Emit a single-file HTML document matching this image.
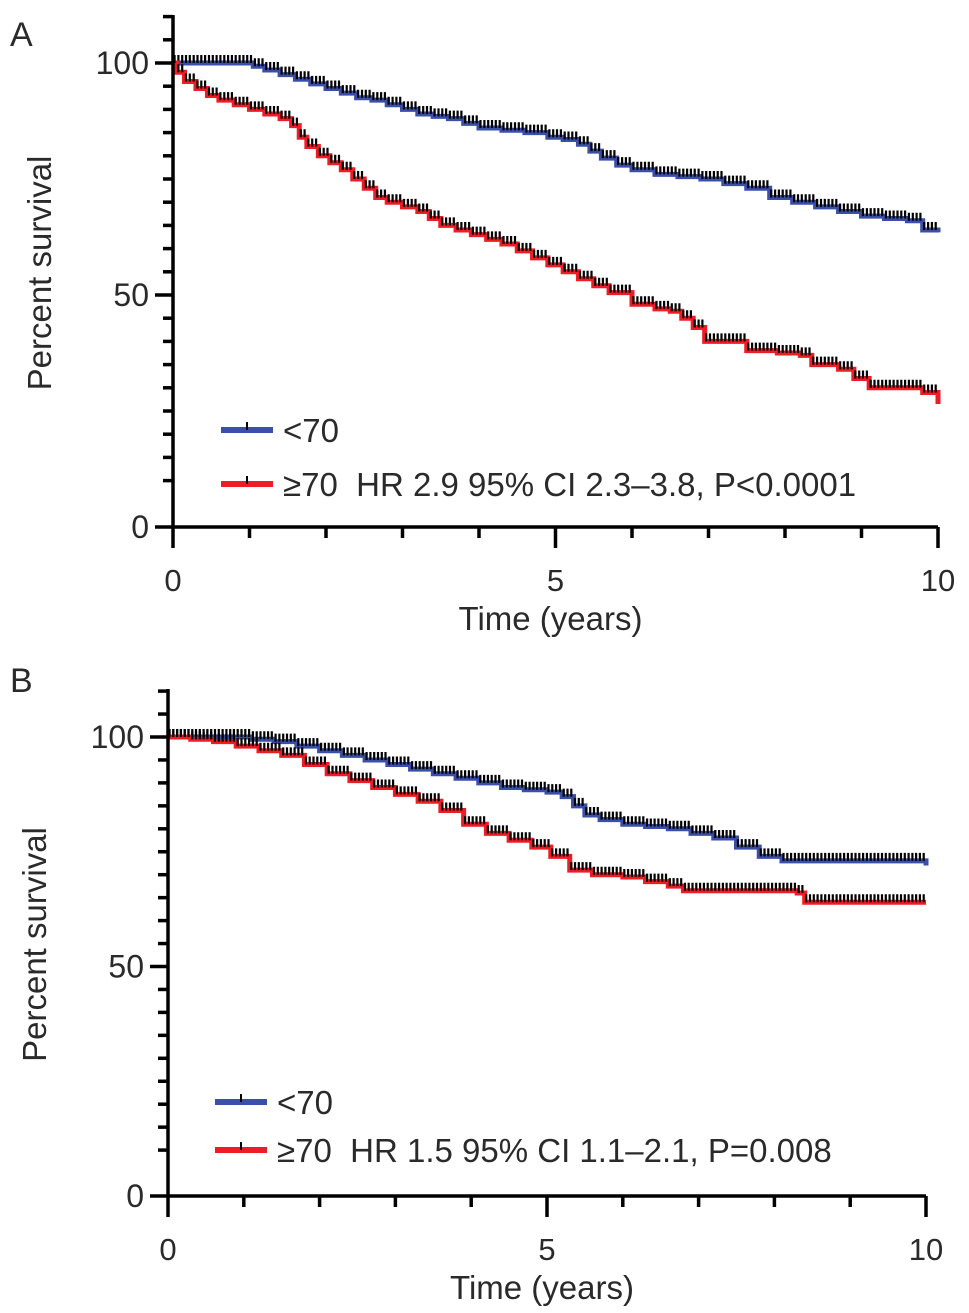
<!DOCTYPE html>
<html><head><meta charset="utf-8"><style>
body{margin:0;background:#fff}
svg{display:block;font-family:"Liberation Sans",Arial,sans-serif}
</style></head><body>
<svg id="s" width="969" height="1313"></svg>
<script>
// Panel A data
const aBlueT=[0,0.9,1.05,1.2,1.4,1.6,1.8,2,2.2,2.4,2.6,2.8,3,3.2,3.4,3.6,3.8,4,4.3,4.6,4.9,5.1,5.3,5.45,5.6,5.8,6,6.3,6.6,6.9,7.2,7.5,7.8,8.1,8.4,8.7,9,9.3,9.6,9.8,10];
const aBlueV=[100,100,99.3,98.5,97.5,96.5,95.5,94.5,93.5,92.5,92,91,90,89,88.5,88,87,86,85.5,85,84,83.5,82.5,81,79.5,78,77,76,75.5,75,74,73,71,70,69,68,67,66.5,66,64,63.5];
const aRedT=[0,0.05,0.15,0.3,0.45,0.6,0.8,1,1.2,1.4,1.55,1.65,1.75,1.9,2.05,2.2,2.35,2.5,2.65,2.8,3,3.2,3.35,3.5,3.7,3.9,4.1,4.3,4.5,4.7,4.9,5.1,5.3,5.5,5.7,6,6.3,6.5,6.65,6.8,6.95,7.5,7.9,8.2,8.35,8.7,8.9,9.1,9.8,10];
const aRedV=[100,98,96,94.5,93,92,91,90,89,88,86.5,84,82,80,78.5,77,75,73,71,70,69,68,66.5,65,64,63,62,61,59.5,58,56.5,55,53.5,52,50.5,48,47,46.5,45,43,40,38,37.5,37,35,34,32,30,29,26.5];
// Panel B data
const bBlueT=[0,0.8,1.1,1.4,1.7,2,2.3,2.6,2.9,3.2,3.5,3.8,4.1,4.4,4.7,5,5.2,5.35,5.5,5.7,6,6.3,6.6,6.9,7.2,7.5,7.8,8.1,10];
const bBlueV=[100,100,99.5,99,98,97,96,95,94,93,92,91,90,89,88.5,88,87,85,83,82,81,80.5,80,79,78,76,74,73,72];
const bRedT=[0,0.3,0.6,0.9,1.2,1.5,1.8,2.1,2.4,2.7,3,3.3,3.6,3.9,4.2,4.5,4.8,5.05,5.3,5.6,6,6.3,6.6,6.8,8.3,8.4,10];
const bRedV=[100,99.5,99,98,97,96,94,92,90.5,89,87.5,86,84,81,79,77.5,76,74,71,70,69.5,68.5,67.5,66.5,66,64,64];
const yTicks=[0,50,100];
const xTicks=[0,5,10];

const S=document.getElementById('s');
const NS='http://www.w3.org/2000/svg';
function mk(tag,at,parent){const e=document.createElementNS(NS,tag);for(const k in at)e.setAttribute(k,at[k]);(parent||S).appendChild(e);return e;}
function stepVal(T,V,t){let v=V[0];for(let i=0;i<T.length;i++){if(T[i]<=t)v=V[i];}return v;}
function panel(P){
  const g=mk('g',{});
  
  
  const X=t=>P.x0+(P.x1-P.x0)*t/10, Y=v=>P.y0-(P.y0-P.y100)*v/100;
  [[P.bT,P.bV,'#3a4fa8','blue'],[P.rT,P.rV,'#ee1c24','red']].forEach(([T,V,c,n])=>{
    let d='M'+X(T[0])+','+Y(V[0]);
    for(let i=1;i<T.length;i++){d+=' H'+X(T[i])+' V'+Y(V[i]);}
    const p=mk('path',{d:d,fill:'none',stroke:c,'stroke-width':5},g);
    
    
    let dd='';
    for(let k=0;k<T.length-1;k++){
      const a=T[k],b=T[k+1];
      const n2=Math.max(1,Math.round((b-a)*20));
      for(let j=0;j<n2;j++){const t=a+(b-a)*(j+0.4)/n2;const v=stepVal(T,V,t);dd+='M'+X(t).toFixed(1)+','+(Y(v)-8)+' v8 ';}
    }
    const ct=mk('path',{d:dd,stroke:'#000','stroke-width':2.2,fill:'none'},g);
    
    
  });
  const ax=mk('g',{stroke:'#000','stroke-width':3.5,fill:'none'},g);
  
  
  mk('line',{x1:P.x0,y1:P.yTop,x2:P.x0,y2:P.y0+21},ax);
  mk('line',{x1:P.x0-18,y1:P.y0,x2:P.x1,y2:P.y0},ax);
  for(let v=10;v<=110;v+=5){const big=v%50===0;mk('line',{x1:P.x0-(big?18:10),y1:Y(v),x2:P.x0,y2:Y(v)},ax);}
  for(let t=1;t<=10;t++){const big=t%5===0;mk('line',{x1:X(t),y1:P.y0,x2:X(t),y2:P.y0+(big?21:11)},ax);}
  yTicks.forEach(v=>{const e=mk('text',{x:P.x0-24,y:Y(v)+11,'text-anchor':'end','font-size':32,fill:'#2a2a2a'},g);e.textContent=v;
    });
  xTicks.forEach(t=>{const e=mk('text',{x:X(t),y:P.y0+64,'text-anchor':'middle','font-size':31,fill:'#2a2a2a'},g);e.textContent=t;
    });
  const xt=mk('text',{x:(P.x0+P.x1)/2-5,y:P.y0+103,'text-anchor':'middle','font-size':33,fill:'#2a2a2a'},g);xt.textContent='Time (years)';
  
  const yt=mk('text',{x:0,y:0,'text-anchor':'middle','font-size':33,fill:'#2a2a2a',transform:'translate('+(P.x0-122)+','+((P.y0+P.y100)/2-22)+') rotate(-90)'},g);yt.textContent='Percent survival';
  
  const pl=mk('text',{x:P.lx,y:P.ly,'font-size':34,fill:'#2a2a2a'},g);pl.textContent=P.letter;
  
  [[P.leg1,'#3a4fa8','<70'],[P.leg2,'#ee1c24',P.label2]].forEach(([ly,c,txt])=>{
    const lg=mk('g',{},g);
    
    
    mk('line',{x1:P.legX,y1:ly,x2:P.legX+52,y2:ly,stroke:c,'stroke-width':6},lg);
    mk('line',{x1:P.legX+26,y1:ly-8,x2:P.legX+26,y2:ly,stroke:'#000','stroke-width':2},lg);
    const t=mk('text',{x:P.legX+62,y:ly+12,'font-size':33,fill:'#2a2a2a'},lg);t.textContent=txt;
  });
}
panel({name:'panel-a',x0:173,x1:938,y0:527,y100:63,yTop:15,bT:aBlueT,bV:aBlueV,rT:aRedT,rV:aRedV,
  letter:'A',lx:10,ly:46,legX:221,leg1:430,leg2:484,label2:'\u226570\u00a0\u00a0HR 2.9 95% CI 2.3\u20133.8, P<0.0001'});
panel({name:'panel-b',x0:168,x1:926,y0:1196,y100:737,yTop:689,bT:bBlueT,bV:bBlueV,rT:bRedT,rV:bRedV,
  letter:'B',lx:10,ly:692,legX:215,leg1:1102,leg2:1150,label2:'\u226570\u00a0\u00a0HR 1.5 95% CI 1.1\u20132.1, P=0.008'});
</script>
</body></html>
